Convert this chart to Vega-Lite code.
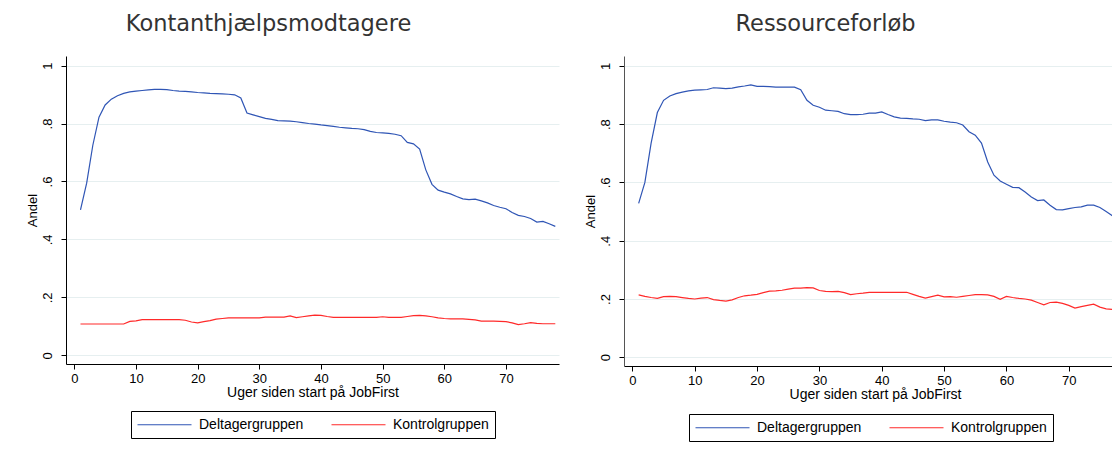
{
"$schema": "https://vega.github.io/schema/vega-lite/v6.json",
"padding": {"left": 26, "top": 12, "right": 0, "bottom": 0},
"background": "white",
"config": {
  "view": {"stroke": null},
  "axis": {"domainColor": "black", "tickColor": "black", "tickSize": 5, "labelColor": "black", "labelFont": "Liberation Sans", "labelFontSize": 13, "titleFont": "Liberation Sans", "titleFontWeight": "normal", "titleColor": "black", "gridColor": "#e6eff0", "gridWidth": 1},
  "title": {"font": "DejaVu Sans", "fontSize": 22.5, "fontWeight": "normal", "color": "#333333", "anchor": "middle", "baseline": "alphabetic", "offset": 21},
  "legend": {"orient": "none", "direction": "horizontal", "strokeColor": "black", "fillColor": "white", "padding": 6, "symbolType": "M-4,0H4", "symbolSize": 182.25, "symbolStrokeWidth": 1.2, "symbolOffset": 20, "labelFont": "Liberation Sans", "labelFontSize": 14, "labelColor": "black", "labelOffset": 27, "columnPadding": 25, "cornerRadius": 0}
},
"datasets": {"d": [
{"p":"K","g":"Deltagergruppen","w":1,"v":0.502},{"p":"K","g":"Deltagergruppen","w":2,"v":0.594},{"p":"K","g":"Deltagergruppen","w":3,"v":0.725},{"p":"K","g":"Deltagergruppen","w":4,"v":0.822},{"p":"K","g":"Deltagergruppen","w":5,"v":0.864},{"p":"K","g":"Deltagergruppen","w":6,"v":0.884},{"p":"K","g":"Deltagergruppen","w":7,"v":0.896},{"p":"K","g":"Deltagergruppen","w":8,"v":0.904},{"p":"K","g":"Deltagergruppen","w":9,"v":0.909},{"p":"K","g":"Deltagergruppen","w":10,"v":0.912},
{"p":"K","g":"Deltagergruppen","w":11,"v":0.914},{"p":"K","g":"Deltagergruppen","w":12,"v":0.916},{"p":"K","g":"Deltagergruppen","w":13,"v":0.918},{"p":"K","g":"Deltagergruppen","w":14,"v":0.918},{"p":"K","g":"Deltagergruppen","w":15,"v":0.917},{"p":"K","g":"Deltagergruppen","w":16,"v":0.914},{"p":"K","g":"Deltagergruppen","w":17,"v":0.912},{"p":"K","g":"Deltagergruppen","w":18,"v":0.911},{"p":"K","g":"Deltagergruppen","w":19,"v":0.909},{"p":"K","g":"Deltagergruppen","w":20,"v":0.907},
{"p":"K","g":"Deltagergruppen","w":21,"v":0.906},{"p":"K","g":"Deltagergruppen","w":22,"v":0.904},{"p":"K","g":"Deltagergruppen","w":23,"v":0.903},{"p":"K","g":"Deltagergruppen","w":24,"v":0.902},{"p":"K","g":"Deltagergruppen","w":25,"v":0.901},{"p":"K","g":"Deltagergruppen","w":26,"v":0.899},{"p":"K","g":"Deltagergruppen","w":27,"v":0.888},{"p":"K","g":"Deltagergruppen","w":28,"v":0.836},{"p":"K","g":"Deltagergruppen","w":29,"v":0.830},{"p":"K","g":"Deltagergruppen","w":30,"v":0.824},
{"p":"K","g":"Deltagergruppen","w":31,"v":0.818},{"p":"K","g":"Deltagergruppen","w":32,"v":0.814},{"p":"K","g":"Deltagergruppen","w":33,"v":0.810},{"p":"K","g":"Deltagergruppen","w":34,"v":0.809},{"p":"K","g":"Deltagergruppen","w":35,"v":0.808},{"p":"K","g":"Deltagergruppen","w":36,"v":0.806},{"p":"K","g":"Deltagergruppen","w":37,"v":0.803},{"p":"K","g":"Deltagergruppen","w":38,"v":0.800},{"p":"K","g":"Deltagergruppen","w":39,"v":0.798},{"p":"K","g":"Deltagergruppen","w":40,"v":0.795},
{"p":"K","g":"Deltagergruppen","w":41,"v":0.793},{"p":"K","g":"Deltagergruppen","w":42,"v":0.790},{"p":"K","g":"Deltagergruppen","w":43,"v":0.787},{"p":"K","g":"Deltagergruppen","w":44,"v":0.785},{"p":"K","g":"Deltagergruppen","w":45,"v":0.783},{"p":"K","g":"Deltagergruppen","w":46,"v":0.782},{"p":"K","g":"Deltagergruppen","w":47,"v":0.779},{"p":"K","g":"Deltagergruppen","w":48,"v":0.773},{"p":"K","g":"Deltagergruppen","w":49,"v":0.769},{"p":"K","g":"Deltagergruppen","w":50,"v":0.768},
{"p":"K","g":"Deltagergruppen","w":51,"v":0.766},{"p":"K","g":"Deltagergruppen","w":52,"v":0.763},{"p":"K","g":"Deltagergruppen","w":53,"v":0.758},{"p":"K","g":"Deltagergruppen","w":54,"v":0.735},{"p":"K","g":"Deltagergruppen","w":55,"v":0.730},{"p":"K","g":"Deltagergruppen","w":56,"v":0.712},{"p":"K","g":"Deltagergruppen","w":57,"v":0.640},{"p":"K","g":"Deltagergruppen","w":58,"v":0.590},{"p":"K","g":"Deltagergruppen","w":59,"v":0.570},{"p":"K","g":"Deltagergruppen","w":60,"v":0.563},
{"p":"K","g":"Deltagergruppen","w":61,"v":0.557},{"p":"K","g":"Deltagergruppen","w":62,"v":0.548},{"p":"K","g":"Deltagergruppen","w":63,"v":0.540},{"p":"K","g":"Deltagergruppen","w":64,"v":0.537},{"p":"K","g":"Deltagergruppen","w":65,"v":0.539},{"p":"K","g":"Deltagergruppen","w":66,"v":0.533},{"p":"K","g":"Deltagergruppen","w":67,"v":0.526},{"p":"K","g":"Deltagergruppen","w":68,"v":0.517},{"p":"K","g":"Deltagergruppen","w":69,"v":0.511},{"p":"K","g":"Deltagergruppen","w":70,"v":0.506},
{"p":"K","g":"Deltagergruppen","w":71,"v":0.493},{"p":"K","g":"Deltagergruppen","w":72,"v":0.483},{"p":"K","g":"Deltagergruppen","w":73,"v":0.479},{"p":"K","g":"Deltagergruppen","w":74,"v":0.472},{"p":"K","g":"Deltagergruppen","w":75,"v":0.460},{"p":"K","g":"Deltagergruppen","w":76,"v":0.462},{"p":"K","g":"Deltagergruppen","w":77,"v":0.454},{"p":"K","g":"Deltagergruppen","w":78,"v":0.445},
{"p":"K","g":"Kontrolgruppen","w":1,"v":0.108},{"p":"K","g":"Kontrolgruppen","w":2,"v":0.108},{"p":"K","g":"Kontrolgruppen","w":3,"v":0.108},{"p":"K","g":"Kontrolgruppen","w":4,"v":0.108},{"p":"K","g":"Kontrolgruppen","w":5,"v":0.108},{"p":"K","g":"Kontrolgruppen","w":6,"v":0.108},{"p":"K","g":"Kontrolgruppen","w":7,"v":0.108},{"p":"K","g":"Kontrolgruppen","w":8,"v":0.108},{"p":"K","g":"Kontrolgruppen","w":9,"v":0.117},{"p":"K","g":"Kontrolgruppen","w":10,"v":0.119},
{"p":"K","g":"Kontrolgruppen","w":11,"v":0.123},{"p":"K","g":"Kontrolgruppen","w":12,"v":0.123},{"p":"K","g":"Kontrolgruppen","w":13,"v":0.123},{"p":"K","g":"Kontrolgruppen","w":14,"v":0.123},{"p":"K","g":"Kontrolgruppen","w":15,"v":0.123},{"p":"K","g":"Kontrolgruppen","w":16,"v":0.123},{"p":"K","g":"Kontrolgruppen","w":17,"v":0.123},{"p":"K","g":"Kontrolgruppen","w":18,"v":0.121},{"p":"K","g":"Kontrolgruppen","w":19,"v":0.115},{"p":"K","g":"Kontrolgruppen","w":20,"v":0.112},
{"p":"K","g":"Kontrolgruppen","w":21,"v":0.116},{"p":"K","g":"Kontrolgruppen","w":22,"v":0.120},{"p":"K","g":"Kontrolgruppen","w":23,"v":0.125},{"p":"K","g":"Kontrolgruppen","w":24,"v":0.127},{"p":"K","g":"Kontrolgruppen","w":25,"v":0.129},{"p":"K","g":"Kontrolgruppen","w":26,"v":0.129},{"p":"K","g":"Kontrolgruppen","w":27,"v":0.129},{"p":"K","g":"Kontrolgruppen","w":28,"v":0.129},{"p":"K","g":"Kontrolgruppen","w":29,"v":0.129},{"p":"K","g":"Kontrolgruppen","w":30,"v":0.129},
{"p":"K","g":"Kontrolgruppen","w":31,"v":0.132},{"p":"K","g":"Kontrolgruppen","w":32,"v":0.132},{"p":"K","g":"Kontrolgruppen","w":33,"v":0.132},{"p":"K","g":"Kontrolgruppen","w":34,"v":0.132},{"p":"K","g":"Kontrolgruppen","w":35,"v":0.136},{"p":"K","g":"Kontrolgruppen","w":36,"v":0.130},{"p":"K","g":"Kontrolgruppen","w":37,"v":0.133},{"p":"K","g":"Kontrolgruppen","w":38,"v":0.136},{"p":"K","g":"Kontrolgruppen","w":39,"v":0.139},{"p":"K","g":"Kontrolgruppen","w":40,"v":0.138},
{"p":"K","g":"Kontrolgruppen","w":41,"v":0.134},{"p":"K","g":"Kontrolgruppen","w":42,"v":0.131},{"p":"K","g":"Kontrolgruppen","w":43,"v":0.131},{"p":"K","g":"Kontrolgruppen","w":44,"v":0.131},{"p":"K","g":"Kontrolgruppen","w":45,"v":0.131},{"p":"K","g":"Kontrolgruppen","w":46,"v":0.131},{"p":"K","g":"Kontrolgruppen","w":47,"v":0.131},{"p":"K","g":"Kontrolgruppen","w":48,"v":0.131},{"p":"K","g":"Kontrolgruppen","w":49,"v":0.131},{"p":"K","g":"Kontrolgruppen","w":50,"v":0.133},
{"p":"K","g":"Kontrolgruppen","w":51,"v":0.131},{"p":"K","g":"Kontrolgruppen","w":52,"v":0.131},{"p":"K","g":"Kontrolgruppen","w":53,"v":0.131},{"p":"K","g":"Kontrolgruppen","w":54,"v":0.134},{"p":"K","g":"Kontrolgruppen","w":55,"v":0.137},{"p":"K","g":"Kontrolgruppen","w":56,"v":0.138},{"p":"K","g":"Kontrolgruppen","w":57,"v":0.136},{"p":"K","g":"Kontrolgruppen","w":58,"v":0.133},{"p":"K","g":"Kontrolgruppen","w":59,"v":0.129},{"p":"K","g":"Kontrolgruppen","w":60,"v":0.127},
{"p":"K","g":"Kontrolgruppen","w":61,"v":0.126},{"p":"K","g":"Kontrolgruppen","w":62,"v":0.126},{"p":"K","g":"Kontrolgruppen","w":63,"v":0.126},{"p":"K","g":"Kontrolgruppen","w":64,"v":0.124},{"p":"K","g":"Kontrolgruppen","w":65,"v":0.122},{"p":"K","g":"Kontrolgruppen","w":66,"v":0.118},{"p":"K","g":"Kontrolgruppen","w":67,"v":0.118},{"p":"K","g":"Kontrolgruppen","w":68,"v":0.118},{"p":"K","g":"Kontrolgruppen","w":69,"v":0.117},{"p":"K","g":"Kontrolgruppen","w":70,"v":0.116},
{"p":"K","g":"Kontrolgruppen","w":71,"v":0.112},{"p":"K","g":"Kontrolgruppen","w":72,"v":0.106},{"p":"K","g":"Kontrolgruppen","w":73,"v":0.109},{"p":"K","g":"Kontrolgruppen","w":74,"v":0.113},{"p":"K","g":"Kontrolgruppen","w":75,"v":0.110},{"p":"K","g":"Kontrolgruppen","w":76,"v":0.109},{"p":"K","g":"Kontrolgruppen","w":77,"v":0.109},{"p":"K","g":"Kontrolgruppen","w":78,"v":0.109},
{"p":"R","g":"Deltagergruppen","w":1,"v":0.528},{"p":"R","g":"Deltagergruppen","w":2,"v":0.600},{"p":"R","g":"Deltagergruppen","w":3,"v":0.735},{"p":"R","g":"Deltagergruppen","w":4,"v":0.840},{"p":"R","g":"Deltagergruppen","w":5,"v":0.882},{"p":"R","g":"Deltagergruppen","w":6,"v":0.897},{"p":"R","g":"Deltagergruppen","w":7,"v":0.905},{"p":"R","g":"Deltagergruppen","w":8,"v":0.910},{"p":"R","g":"Deltagergruppen","w":9,"v":0.914},{"p":"R","g":"Deltagergruppen","w":10,"v":0.917},
{"p":"R","g":"Deltagergruppen","w":11,"v":0.918},{"p":"R","g":"Deltagergruppen","w":12,"v":0.919},{"p":"R","g":"Deltagergruppen","w":13,"v":0.925},{"p":"R","g":"Deltagergruppen","w":14,"v":0.924},{"p":"R","g":"Deltagergruppen","w":15,"v":0.922},{"p":"R","g":"Deltagergruppen","w":16,"v":0.924},{"p":"R","g":"Deltagergruppen","w":17,"v":0.928},{"p":"R","g":"Deltagergruppen","w":18,"v":0.931},{"p":"R","g":"Deltagergruppen","w":19,"v":0.935},{"p":"R","g":"Deltagergruppen","w":20,"v":0.930},
{"p":"R","g":"Deltagergruppen","w":21,"v":0.930},{"p":"R","g":"Deltagergruppen","w":22,"v":0.929},{"p":"R","g":"Deltagergruppen","w":23,"v":0.927},{"p":"R","g":"Deltagergruppen","w":24,"v":0.927},{"p":"R","g":"Deltagergruppen","w":25,"v":0.927},{"p":"R","g":"Deltagergruppen","w":26,"v":0.927},{"p":"R","g":"Deltagergruppen","w":27,"v":0.918},{"p":"R","g":"Deltagergruppen","w":28,"v":0.882},{"p":"R","g":"Deltagergruppen","w":29,"v":0.865},{"p":"R","g":"Deltagergruppen","w":30,"v":0.858},
{"p":"R","g":"Deltagergruppen","w":31,"v":0.848},{"p":"R","g":"Deltagergruppen","w":32,"v":0.846},{"p":"R","g":"Deltagergruppen","w":33,"v":0.844},{"p":"R","g":"Deltagergruppen","w":34,"v":0.836},{"p":"R","g":"Deltagergruppen","w":35,"v":0.833},{"p":"R","g":"Deltagergruppen","w":36,"v":0.833},{"p":"R","g":"Deltagergruppen","w":37,"v":0.834},{"p":"R","g":"Deltagergruppen","w":38,"v":0.838},{"p":"R","g":"Deltagergruppen","w":39,"v":0.838},{"p":"R","g":"Deltagergruppen","w":40,"v":0.842},
{"p":"R","g":"Deltagergruppen","w":41,"v":0.833},{"p":"R","g":"Deltagergruppen","w":42,"v":0.825},{"p":"R","g":"Deltagergruppen","w":43,"v":0.821},{"p":"R","g":"Deltagergruppen","w":44,"v":0.820},{"p":"R","g":"Deltagergruppen","w":45,"v":0.818},{"p":"R","g":"Deltagergruppen","w":46,"v":0.817},{"p":"R","g":"Deltagergruppen","w":47,"v":0.812},{"p":"R","g":"Deltagergruppen","w":48,"v":0.815},{"p":"R","g":"Deltagergruppen","w":49,"v":0.815},{"p":"R","g":"Deltagergruppen","w":50,"v":0.810},
{"p":"R","g":"Deltagergruppen","w":51,"v":0.807},{"p":"R","g":"Deltagergruppen","w":52,"v":0.805},{"p":"R","g":"Deltagergruppen","w":53,"v":0.797},{"p":"R","g":"Deltagergruppen","w":54,"v":0.774},{"p":"R","g":"Deltagergruppen","w":55,"v":0.762},{"p":"R","g":"Deltagergruppen","w":56,"v":0.735},{"p":"R","g":"Deltagergruppen","w":57,"v":0.670},{"p":"R","g":"Deltagergruppen","w":58,"v":0.625},{"p":"R","g":"Deltagergruppen","w":59,"v":0.605},{"p":"R","g":"Deltagergruppen","w":60,"v":0.594},
{"p":"R","g":"Deltagergruppen","w":61,"v":0.583},{"p":"R","g":"Deltagergruppen","w":62,"v":0.582},{"p":"R","g":"Deltagergruppen","w":63,"v":0.567},{"p":"R","g":"Deltagergruppen","w":64,"v":0.550},{"p":"R","g":"Deltagergruppen","w":65,"v":0.538},{"p":"R","g":"Deltagergruppen","w":66,"v":0.540},{"p":"R","g":"Deltagergruppen","w":67,"v":0.522},{"p":"R","g":"Deltagergruppen","w":68,"v":0.507},{"p":"R","g":"Deltagergruppen","w":69,"v":0.506},{"p":"R","g":"Deltagergruppen","w":70,"v":0.510},
{"p":"R","g":"Deltagergruppen","w":71,"v":0.514},{"p":"R","g":"Deltagergruppen","w":72,"v":0.516},{"p":"R","g":"Deltagergruppen","w":73,"v":0.522},{"p":"R","g":"Deltagergruppen","w":74,"v":0.522},{"p":"R","g":"Deltagergruppen","w":75,"v":0.514},{"p":"R","g":"Deltagergruppen","w":76,"v":0.500},{"p":"R","g":"Deltagergruppen","w":77,"v":0.486},{"p":"R","g":"Deltagergruppen","w":78,"v":0.475},
{"p":"R","g":"Kontrolgruppen","w":1,"v":0.214},{"p":"R","g":"Kontrolgruppen","w":2,"v":0.209},{"p":"R","g":"Kontrolgruppen","w":3,"v":0.205},{"p":"R","g":"Kontrolgruppen","w":4,"v":0.202},{"p":"R","g":"Kontrolgruppen","w":5,"v":0.208},{"p":"R","g":"Kontrolgruppen","w":6,"v":0.209},{"p":"R","g":"Kontrolgruppen","w":7,"v":0.208},{"p":"R","g":"Kontrolgruppen","w":8,"v":0.205},{"p":"R","g":"Kontrolgruppen","w":9,"v":0.202},{"p":"R","g":"Kontrolgruppen","w":10,"v":0.200},
{"p":"R","g":"Kontrolgruppen","w":11,"v":0.203},{"p":"R","g":"Kontrolgruppen","w":12,"v":0.205},{"p":"R","g":"Kontrolgruppen","w":13,"v":0.198},{"p":"R","g":"Kontrolgruppen","w":14,"v":0.195},{"p":"R","g":"Kontrolgruppen","w":15,"v":0.193},{"p":"R","g":"Kontrolgruppen","w":16,"v":0.197},{"p":"R","g":"Kontrolgruppen","w":17,"v":0.205},{"p":"R","g":"Kontrolgruppen","w":18,"v":0.211},{"p":"R","g":"Kontrolgruppen","w":19,"v":0.213},{"p":"R","g":"Kontrolgruppen","w":20,"v":0.216},
{"p":"R","g":"Kontrolgruppen","w":21,"v":0.222},{"p":"R","g":"Kontrolgruppen","w":22,"v":0.227},{"p":"R","g":"Kontrolgruppen","w":23,"v":0.228},{"p":"R","g":"Kontrolgruppen","w":24,"v":0.230},{"p":"R","g":"Kontrolgruppen","w":25,"v":0.234},{"p":"R","g":"Kontrolgruppen","w":26,"v":0.237},{"p":"R","g":"Kontrolgruppen","w":27,"v":0.237},{"p":"R","g":"Kontrolgruppen","w":28,"v":0.239},{"p":"R","g":"Kontrolgruppen","w":29,"v":0.238},{"p":"R","g":"Kontrolgruppen","w":30,"v":0.229},
{"p":"R","g":"Kontrolgruppen","w":31,"v":0.226},{"p":"R","g":"Kontrolgruppen","w":32,"v":0.225},{"p":"R","g":"Kontrolgruppen","w":33,"v":0.226},{"p":"R","g":"Kontrolgruppen","w":34,"v":0.222},{"p":"R","g":"Kontrolgruppen","w":35,"v":0.215},{"p":"R","g":"Kontrolgruppen","w":36,"v":0.218},{"p":"R","g":"Kontrolgruppen","w":37,"v":0.220},{"p":"R","g":"Kontrolgruppen","w":38,"v":0.223},{"p":"R","g":"Kontrolgruppen","w":39,"v":0.223},{"p":"R","g":"Kontrolgruppen","w":40,"v":0.223},
{"p":"R","g":"Kontrolgruppen","w":41,"v":0.223},{"p":"R","g":"Kontrolgruppen","w":42,"v":0.223},{"p":"R","g":"Kontrolgruppen","w":43,"v":0.223},{"p":"R","g":"Kontrolgruppen","w":44,"v":0.223},{"p":"R","g":"Kontrolgruppen","w":45,"v":0.216},{"p":"R","g":"Kontrolgruppen","w":46,"v":0.209},{"p":"R","g":"Kontrolgruppen","w":47,"v":0.203},{"p":"R","g":"Kontrolgruppen","w":48,"v":0.208},{"p":"R","g":"Kontrolgruppen","w":49,"v":0.213},{"p":"R","g":"Kontrolgruppen","w":50,"v":0.207},
{"p":"R","g":"Kontrolgruppen","w":51,"v":0.208},{"p":"R","g":"Kontrolgruppen","w":52,"v":0.206},{"p":"R","g":"Kontrolgruppen","w":53,"v":0.209},{"p":"R","g":"Kontrolgruppen","w":54,"v":0.212},{"p":"R","g":"Kontrolgruppen","w":55,"v":0.215},{"p":"R","g":"Kontrolgruppen","w":56,"v":0.215},{"p":"R","g":"Kontrolgruppen","w":57,"v":0.214},{"p":"R","g":"Kontrolgruppen","w":58,"v":0.209},{"p":"R","g":"Kontrolgruppen","w":59,"v":0.199},{"p":"R","g":"Kontrolgruppen","w":60,"v":0.209},
{"p":"R","g":"Kontrolgruppen","w":61,"v":0.205},{"p":"R","g":"Kontrolgruppen","w":62,"v":0.202},{"p":"R","g":"Kontrolgruppen","w":63,"v":0.200},{"p":"R","g":"Kontrolgruppen","w":64,"v":0.196},{"p":"R","g":"Kontrolgruppen","w":65,"v":0.188},{"p":"R","g":"Kontrolgruppen","w":66,"v":0.180},{"p":"R","g":"Kontrolgruppen","w":67,"v":0.188},{"p":"R","g":"Kontrolgruppen","w":68,"v":0.189},{"p":"R","g":"Kontrolgruppen","w":69,"v":0.185},{"p":"R","g":"Kontrolgruppen","w":70,"v":0.178},
{"p":"R","g":"Kontrolgruppen","w":71,"v":0.169},{"p":"R","g":"Kontrolgruppen","w":72,"v":0.174},{"p":"R","g":"Kontrolgruppen","w":73,"v":0.178},{"p":"R","g":"Kontrolgruppen","w":74,"v":0.182},{"p":"R","g":"Kontrolgruppen","w":75,"v":0.172},{"p":"R","g":"Kontrolgruppen","w":76,"v":0.166},{"p":"R","g":"Kontrolgruppen","w":77,"v":0.164},{"p":"R","g":"Kontrolgruppen","w":78,"v":0.162}
]},
"spacing": 24,
"resolve": {"scale": {"x": "independent", "y": "independent"}, "legend": {"color": "independent"}},
"hconcat": [
{
  "width": 493, "height": 308,
  "title": {"text": "Kontanthjælpsmodtagere", "dx": -44},
  "data": {"name": "d"},
  "transform": [{"filter": "datum.p == 'K'"}],
  "mark": {"type": "line", "clip": true, "strokeWidth": 1.2},
  "encoding": {
    "x": {"field": "w", "type": "quantitative", "scale": {"domain": [-1.35, 78.6], "nice": false, "zero": false},
          "axis": {"values": [0,10,20,30,40,50,60,70], "title": "Uger siden start på JobFirst", "titleFontSize": 14, "grid": false, "labelPadding": 3, "titlePadding": 0, "labelFlush": false}},
    "y": {"field": "v", "type": "quantitative", "scale": {"domain": [-0.03, 1.033], "nice": false, "zero": false},
          "axis": {"values": [0,0.2,0.4,0.6,0.8,1], "title": "Andel", "titleFontSize": 13, "labelAngle": -90, "labelAlign": "center", "labelBaseline": "bottom", "labelPadding": 7, "titlePadding": 2, "grid": true,
                   "labelExpr": "datum.value == 0 ? '0' : datum.value == 1 ? '1' : replace(format(datum.value, '.1f'), '0.', '.')"}},
    "color": {"field": "g", "type": "nominal", "scale": {"domain": ["Deltagergruppen", "Kontrolgruppen"], "range": ["#2f55b5", "#ff2a2a"]},
              "legend": {"title": null, "legendX": 65, "legendY": 355}}
  }
},
{
  "width": 489, "height": 310,
  "title": {"text": "Ressourceforløb", "dx": -43},
  "data": {"name": "d"},
  "transform": [{"filter": "datum.p == 'R'"}],
  "mark": {"type": "line", "clip": true, "strokeWidth": 1.2},
  "encoding": {
    "x": {"field": "w", "type": "quantitative", "scale": {"domain": [-1.35, 77.1], "nice": false, "zero": false},
          "axis": {"values": [0,10,20,30,40,50,60,70], "title": "Uger siden start på JobFirst", "titleFontSize": 14, "grid": false, "labelPadding": 3, "titlePadding": 0, "titleX": 251, "labelFlush": false}},
    "y": {"field": "v", "type": "quantitative", "scale": {"domain": [-0.03, 1.034], "nice": false, "zero": false},
          "axis": {"values": [0,0.2,0.4,0.6,0.8,1], "title": "Andel", "titleFontSize": 13, "labelAngle": -90, "labelAlign": "center", "labelBaseline": "bottom", "labelPadding": 7, "titlePadding": 2, "grid": true, "domainColor": "#555555",
                   "labelExpr": "datum.value == 0 ? '0' : datum.value == 1 ? '1' : replace(format(datum.value, '.1f'), '0.', '.')"}},
    "color": {"field": "g", "type": "nominal", "scale": {"domain": ["Deltagergruppen", "Kontrolgruppen"], "range": ["#2f55b5", "#ff2a2a"]},
              "legend": {"title": null, "legendX": 65, "legendY": 358}}
  }
}
]
}
